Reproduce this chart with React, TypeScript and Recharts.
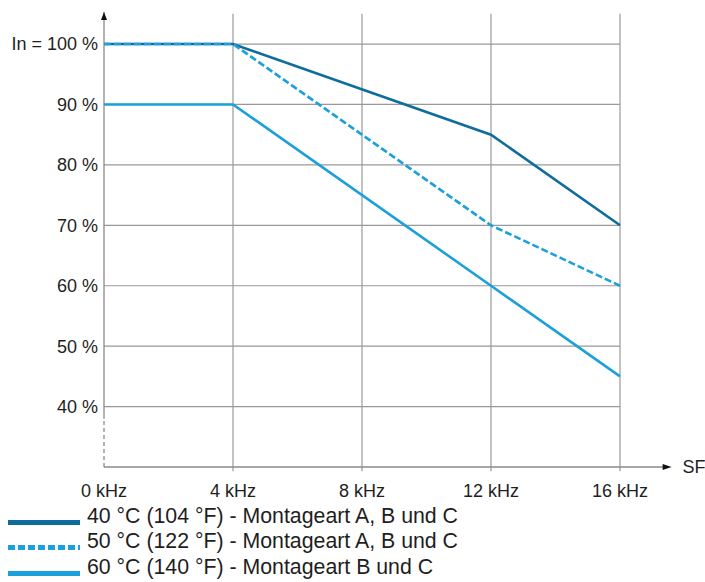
import React from 'react';
import { LineChart, Line, XAxis, YAxis, ReferenceLine } from 'recharts';

// switching frequency (kHz) and derating (% of In)
const freqs = [0, 4, 12, 16];
const temp40 = [100, 100, 85, 70];
const temp50 = [100, 100, 70, 60];
const temp60 = [90, 90, 60, 45];

const xTicks = [0, 4, 8, 12, 16];
const xTickLabels = ['0 kHz', '4 kHz', '8 kHz', '12 kHz', '16 kHz'];
const yTicks = [40, 50, 60, 70, 80, 90, 100];
const yTickLabels = ['40 %', '50 %', '60 %', '70 %', '80 %', '90 %', 'In = 100 %'];
const legendLabels = [
  '40 °C (104 °F) - Montageart A, B und C',
  '50 °C (122 °F) - Montageart A, B und C',
  '60 °C (140 °F) - Montageart B und C',
];

const DARK = '#0f6d9c';
const LIGHT = '#1ba0dc';
const GRID = '#999999';
const AXIS = '#8a8a8a';
const TEXT = '#1e1e1e';
const FONT = '"Liberation Sans", Arial, Helvetica, sans-serif';

const data = freqs.map((f, i) => ({ f, t40: temp40[i], t50: temp50[i], t60: temp60[i] }));

const yAxisArrow = (p: any) => (
  <g>
    <line x1={p.x1} y1={p.y1} x2={p.x2} y2={p.y2} stroke={AXIS} strokeWidth={1.3} />
    <path d={`M${p.x2},${p.y2} L${p.x2 - 3},${p.y2 + 8} L${p.x2 + 3},${p.y2 + 8} Z`} fill="#111" />
  </g>
);

const xAxisArrow = (p: any) => (
  <g>
    <line x1={p.x1} y1={p.y1} x2={p.x2 - 4} y2={p.y2} stroke={AXIS} strokeWidth={1.3} />
    <path d={`M${p.x2},${p.y2} L${p.x2 - 9},${p.y2 - 3} L${p.x2 - 9},${p.y2 + 3} Z`} fill="#111" />
    <text x={p.x2 + 11} y={p.y2 + 6} fontSize={18} fill={TEXT} fontFamily={FONT}>SF</text>
  </g>
);

function Legend() {
  return (
    <div style={{ position: 'absolute', left: 0, top: 503, fontFamily: FONT, color: TEXT, fontSize: 21.3 }}>
      {legendLabels.map((label, i) => (
        <div key={label} style={{ display: 'flex', alignItems: 'flex-end', height: 25.5 }}>
          <svg width={87} height={25} style={{ display: 'block' }}>
            <line
              x1={8}
              y1={18.5}
              x2={80}
              y2={18.5}
              stroke={i === 0 ? DARK : LIGHT}
              strokeWidth={5}
              strokeDasharray={i === 1 ? '7 3' : undefined}
            />
          </svg>
          <span style={{ lineHeight: '25px', whiteSpace: 'nowrap' }}>{label}</span>
        </div>
      ))}
    </div>
  );
}

export default function App() {
  return (
    <div style={{ position: 'relative', width: 705, height: 582, background: '#fff', overflow: 'hidden' }}>
      <style>{'html,body{margin:0;padding:0;overflow:hidden;}'}</style>
      <LineChart
        width={705}
        height={582}
        data={data}
        margin={{ top: 12, right: 20.5, left: 0, bottom: 0 }}
      >
        <XAxis
          dataKey="f"
          type="number"
          domain={[0, 18]}
          ticks={xTicks}
          tickFormatter={(v: number) => xTickLabels[xTicks.indexOf(v)]}
          axisLine={false}
          tickLine={false}
          tickSize={0}
          tickMargin={17}
          height={115}
          interval={0}
          tick={{ fill: TEXT, fontSize: 18, fontFamily: FONT }}
        />
        <YAxis
          type="number"
          domain={[30, 105.3]}
          allowDataOverflow
          ticks={yTicks}
          tickFormatter={(v: number) => yTickLabels[yTicks.indexOf(v)]}
          axisLine={false}
          tickLine={false}
          tickSize={0}
          tickMargin={6}
          width={104}
          interval={0}
          tick={{ fill: TEXT, fontSize: 18, fontFamily: FONT }}
        />

        {yTicks.map((v) => (
          <ReferenceLine
            key={`h${v}`}
            segment={[{ x: 0, y: v }, { x: 16, y: v }]}
            stroke={GRID}
            strokeWidth={1.2}
            ifOverflow="visible"
          />
        ))}
        {xTicks.slice(1).map((v) => (
          <ReferenceLine
            key={`v${v}`}
            segment={[{ x: v, y: 29.3 }, { x: v, y: 105 }]}
            stroke={GRID}
            strokeWidth={1.2}
            ifOverflow="visible"
          />
        ))}
        <ReferenceLine
          segment={[{ x: 0, y: 30 }, { x: 0, y: 38 }]}
          stroke={AXIS}
          strokeWidth={1.3}
          strokeDasharray="4 3"
          ifOverflow="visible"
        />
        <ReferenceLine segment={[{ x: 0, y: 38 }, { x: 0, y: 105.3 }]} shape={yAxisArrow} ifOverflow="visible" />
        <ReferenceLine segment={[{ x: 0, y: 30 }, { x: 17.6, y: 30 }]} shape={xAxisArrow} ifOverflow="visible" />

        <Line dataKey="t40" type="linear" stroke={DARK} strokeWidth={2.6} dot={false} isAnimationActive={false} />
        <Line
          dataKey="t50"
          type="linear"
          stroke={LIGHT}
          strokeWidth={2.6}
          strokeDasharray="7 3"
          dot={false}
          isAnimationActive={false}
        />
        <Line dataKey="t60" type="linear" stroke={LIGHT} strokeWidth={2.6} dot={false} isAnimationActive={false} />
      </LineChart>
      <Legend />
    </div>
  );
}
